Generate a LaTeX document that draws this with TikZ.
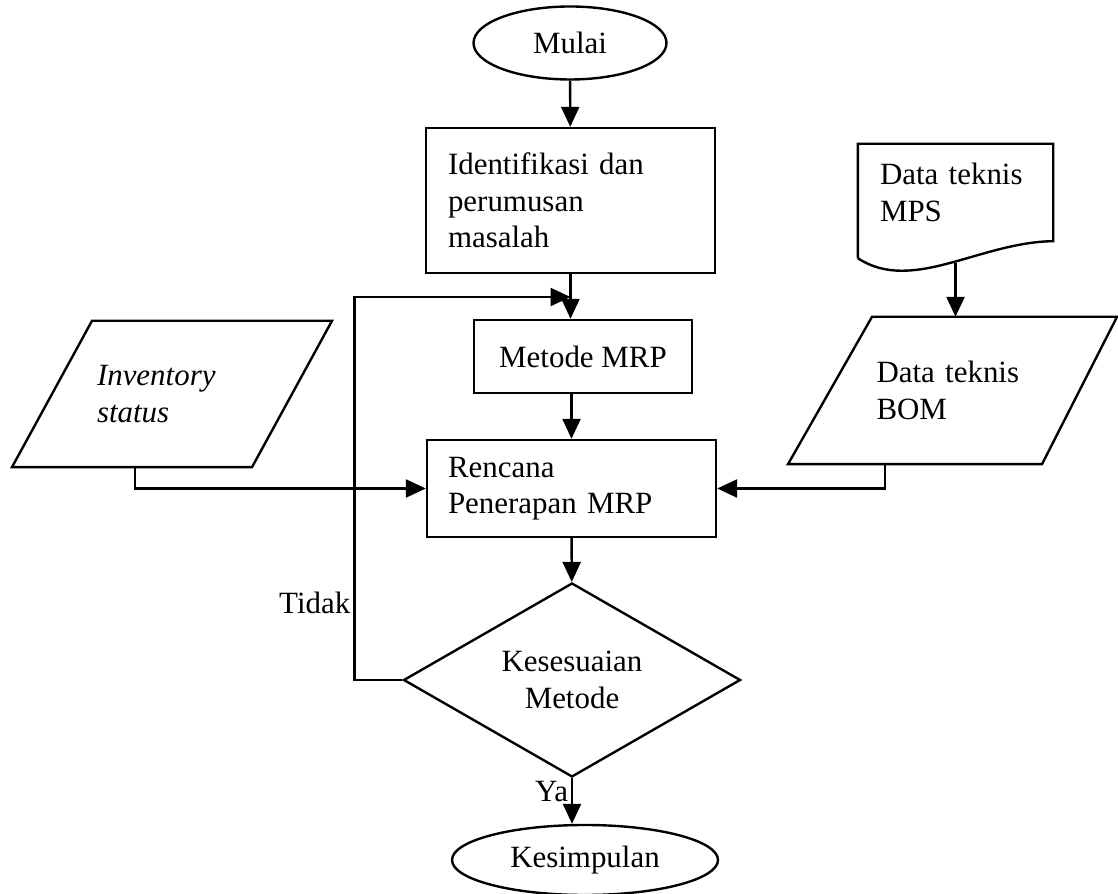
\documentclass[tikz,border=0pt]{standalone}
\usepackage{fontspec}
\setmainfont{Liberation Serif}
\usetikzlibrary{arrows.meta,shapes.geometric}

\begin{document}
\begin{tikzpicture}[line width=1.7pt,
  every node/.style={font=\fontsize{22}{26}\selectfont},
  term/.style={ellipse, draw, inner sep=0pt},
  procbox/.style={rectangle, draw, inner sep=0pt, align=left},
  iotext/.style={rectangle, inner sep=0pt, align=left},
  decision/.style={diamond, draw, aspect=1.74, inner sep=0pt, align=center},
  arr/.style={-{Triangle[length=0.5cm,width=0.45cm]}}]
\useasboundingbox (0,0) rectangle (27.95,22.35);
\node[term, minimum width=4.825cm, minimum height=1.825cm] (mulai) at (14.25,21.275) {Mulai};
\node[procbox, minimum width=7.225cm, minimum height=3.625cm, text width=6.125cm] (iden) at (14.2625,17.3375) {Identifikasi dan\\perumusan\\masalah};
\node[procbox, align=center, minimum width=5.45cm, minimum height=1.825cm] (metode) at (14.575,13.4375) {Metode MRP};
\node[procbox, minimum width=7.225cm, minimum height=2.425cm, text width=6.175cm] (rencana) at (14.2875,10.1375) {Rencana\\Penerapan MRP};
\node[decision, minimum width=8.425cm, minimum height=4.85cm] (cek) at (14.3,5.35) {Kesesuaian\\Metode};
\node[term, minimum width=6.65cm, minimum height=1.75cm] (kes) at (14.625,0.85) {Kesimpulan};
\node[iotext, minimum height=3.6cm, text width=3.75cm, font=\fontsize{22}{26}\selectfont\itshape] (inv) at (4.3,12.5) {Inventory\\status};
\node[iotext, minimum height=3.625cm, text width=3.8cm] (bom) at (23.8125,12.5875) {Data teknis\\BOM};
\node[iotext, minimum width=4.825cm, minimum height=2.375cm, text width=3.775cm] (mps) at (23.8875,17.5375) {Data teknis\\MPS};
% parallelograms and document shape
\draw ([xshift=-4cm]inv.south) -- ([xshift=2cm]inv.south) -- ([xshift=4cm]inv.north) -- ([xshift=-2cm]inv.north) -- cycle;
\draw ([xshift=-4.1125cm]bom.south) -- ([xshift=2.2375cm]bom.south) -- ([xshift=4.1125cm]bom.north) -- ([xshift=-2.0125cm]bom.north) -- cycle;
\draw ([yshift=-0.425cm]mps.south west) -- (mps.north west) -- (mps.north east) -- (mps.south east)
  .. controls (24.5,16.3) and (22.8,15.0) .. ([yshift=-0.425cm]mps.south west);
\coordinate (join) at (14.2625,14.925);
\draw[arr] (mulai) -- (iden);
\draw[arr] (iden.south) -- (iden.south |- metode.north);
\draw[arr] (rencana.north |- metode.south) -- (rencana.north);
\draw[arr] (rencana) -- (cek);
\draw[arr] (cek.south) -- node[left, pos=0.3, inner sep=2pt]{Ya} (cek.south |- kes.north);
\draw[arr] (cek.west) -- ++(-1.2,0) |- node[left, pos=0.1, inner sep=2pt]{Tidak} (join);
\draw[arr] ([xshift=-0.925cm]inv.south) |- (rencana.west);
\draw[arr] ([xshift=-1.6875cm]bom.south) |- (rencana.east);
\draw[arr] ([yshift=-0.55cm]mps.south) -- (mps.south |- bom.north);
\end{tikzpicture}
\end{document}
